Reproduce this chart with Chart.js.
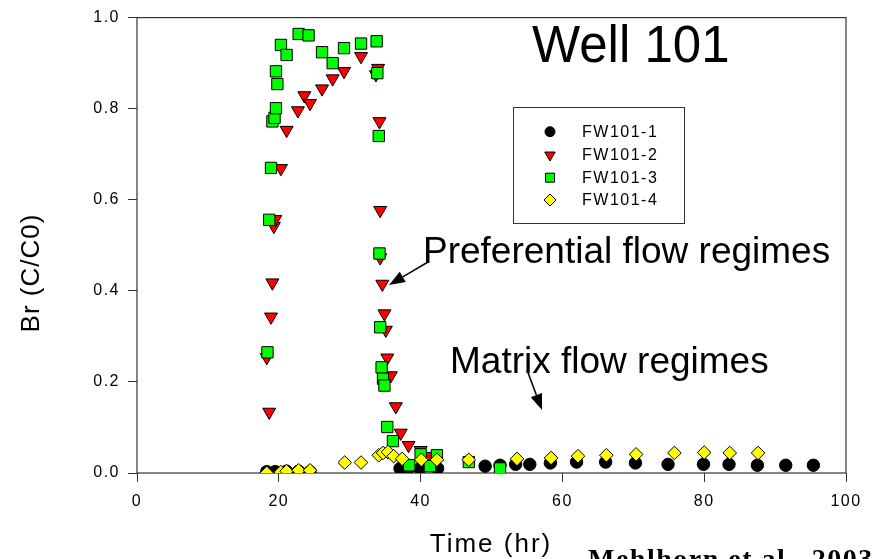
<!DOCTYPE html>
<html>
<head>
<meta charset="utf-8">
<title>Well 101</title>
<script src="https://cdn.jsdelivr.net/npm/chart.js@4.4.1/dist/chart.umd.min.js"></script>
<style>
  html, body { margin: 0; padding: 0; background: #ffffff; }
  #wrap { width: 878px; height: 559px; position: relative; }
</style>
</head>
<body>
<div id="wrap"><canvas id="wellChart" width="878" height="559"></canvas></div>
<script>
// Bromide breakthrough data (time in hr, C/C0)
const fw1Time = [18.3, 19.5, 21.1, 22.8, 24.4, 37.1, 38.3, 39.9, 42.4, 49.1, 51.2, 53.4, 55.4, 58.3, 62.0, 66.1, 70.3, 74.9, 79.9, 83.5, 87.5, 91.5, 95.4];
const fw1Conc = [0.003, 0.003, 0.004, 0.004, 0.003, 0.010, 0.010, 0.010, 0.010, 0.015, 0.017, 0.019, 0.019, 0.022, 0.024, 0.024, 0.022, 0.019, 0.019, 0.019, 0.017, 0.017, 0.017];

const fw2Time = [18.3, 18.65, 18.9, 19.1, 19.3, 19.5, 20.3, 21.1, 22.7, 23.6, 24.4, 26.1, 27.6, 29.2, 31.6, 33.7, 34.0, 34.2, 34.3, 34.3, 34.6, 34.9, 35.1, 35.3, 35.8, 36.5, 37.2, 38.3, 40.0, 41.1];
const fw2Conc = [0.254, 0.134, 0.343, 0.418, 0.542, 0.557, 0.669, 0.753, 0.796, 0.829, 0.812, 0.844, 0.866, 0.882, 0.915, 0.875, 0.889, 0.772, 0.577, 0.473, 0.415, 0.350, 0.314, 0.253, 0.214, 0.146, 0.088, 0.061, 0.050, 0.037];

const fw3Time = [18.4, 18.65, 18.9, 19.1, 19.4, 19.6, 19.6, 19.8, 20.3, 21.1, 22.8, 24.2, 26.1, 27.6, 29.2, 31.6, 33.8, 33.9, 34.1, 34.2, 34.3, 34.5, 34.7, 34.9, 35.3, 36.1, 38.4, 40.0, 41.3, 42.3, 46.8, 51.2];
const fw3Conc = [0.265, 0.556, 0.670, 0.772, 0.780, 0.801, 0.882, 0.854, 0.940, 0.918, 0.964, 0.961, 0.924, 0.900, 0.933, 0.943, 0.948, 0.878, 0.740, 0.482, 0.320, 0.232, 0.207, 0.192, 0.101, 0.070, 0.017, 0.041, 0.015, 0.039, 0.024, 0.010];

const fw4Time = [18.3, 20.3, 21.1, 22.8, 24.4, 29.3, 31.6, 34.1, 34.7, 35.4, 36.2, 37.4, 40.1, 42.3, 46.8, 53.6, 58.4, 62.2, 66.2, 70.4, 75.8, 80.0, 83.6, 87.6];
const fw4Conc = [0.000, 0.002, 0.004, 0.006, 0.006, 0.023, 0.023, 0.039, 0.044, 0.046, 0.037, 0.031, 0.029, 0.029, 0.029, 0.031, 0.033, 0.037, 0.039, 0.041, 0.044, 0.045, 0.044, 0.044];

const seriesNames = ["FW101-1", "FW101-2", "FW101-3", "FW101-4"];
const xTicks = [0, 20, 40, 60, 80, 100];
const yTicks = [0.0, 0.2, 0.4, 0.6, 0.8, 1.0];

const FONT = 'Arial, "Liberation Sans", sans-serif';

function toPoints(times, values) {
  return times.map((t, i) => ({ x: t, y: values[i] }));
}

/**
 * Small marker shapes for the in-plot legend
 */
function drawMarker(ctx, style, x, y, r, fill) {
  ctx.save();
  ctx.fillStyle = fill;
  ctx.strokeStyle = "#000";
  ctx.lineWidth = 1;
  ctx.beginPath();
  if (style === "circle") {
    ctx.arc(x, y, r, 0, Math.PI * 2);
  } else if (style === "triangle") {
    ctx.moveTo(x - r * 0.87, y - r * 0.5);
    ctx.lineTo(x + r * 0.87, y - r * 0.5);
    ctx.lineTo(x, y + r);
    ctx.closePath();
  } else if (style === "rect") {
    const s = r * 0.75;
    ctx.rect(x - s, y - s, s * 2, s * 2);
  } else if (style === "rectRot") {
    ctx.moveTo(x, y - r);
    ctx.lineTo(x + r, y);
    ctx.lineTo(x, y + r);
    ctx.lineTo(x - r, y);
    ctx.closePath();
  }
  ctx.fill();
  ctx.stroke();
  ctx.restore();
}

function drawArrow(ctx, x1, y1, x2, y2) {
  const ang = Math.atan2(y2 - y1, x2 - x1);
  const len = 16, half = 6;
  const bx = x2 - Math.cos(ang) * len;
  const by = y2 - Math.sin(ang) * len;
  ctx.save();
  ctx.strokeStyle = "#000";
  ctx.fillStyle = "#000";
  ctx.lineWidth = 1.5;
  ctx.beginPath();
  ctx.moveTo(x1, y1);
  ctx.lineTo(bx, by);
  ctx.stroke();
  ctx.beginPath();
  ctx.moveTo(x2, y2);
  ctx.lineTo(bx + Math.sin(ang) * half, by - Math.cos(ang) * half);
  ctx.lineTo(bx - Math.sin(ang) * half, by + Math.cos(ang) * half);
  ctx.closePath();
  ctx.fill();
  ctx.restore();
}

function label(ctx, text, x, y, font, spacing, align, baseline) {
  ctx.save();
  ctx.font = font;
  ctx.letterSpacing = spacing;
  ctx.fillStyle = "#000";
  ctx.textAlign = align || "left";
  ctx.textBaseline = baseline || "alphabetic";
  ctx.fillText(text, x, y);
  ctx.restore();
}

// Slightly spaced-out tick text like the original plot
const spacingPlugin = {
  id: "spacing",
  beforeLayout(chart) { chart.ctx.letterSpacing = "1.5px"; },
  beforeDraw(chart) { chart.ctx.letterSpacing = "1.5px"; },
};

// Full box around the plotting area
const framePlugin = {
  id: "frame",
  beforeDatasetsDraw(chart) {
    const { ctx, chartArea: a } = chart;
    ctx.save();
    ctx.strokeStyle = "#333";
    ctx.lineWidth = 1.2;
    ctx.strokeRect(a.left, a.top, a.right - a.left, a.bottom - a.top);
    ctx.restore();
  },
};

// Titles, notes, arrows and the boxed legend
const notesPlugin = {
  id: "notes",
  afterDraw(chart) {
    const ctx = chart.ctx;

    label(ctx, "Well 101", 532, 62, "51px " + FONT, "0px");
    label(ctx, "Preferential flow regimes", 423, 263, "37px " + FONT, "0px");
    label(ctx, "Matrix flow regimes", 450, 373, "37px " + FONT, "0px");

    drawArrow(ctx, 428, 262, 389, 285);
    drawArrow(ctx, 527, 370, 542, 410);

    label(ctx, "Time (hr)", 491, 552, "26px " + FONT, "2px", "center");
    label(ctx, "Mehlhorn et al., 2003", 588, 568, 'bold 28px "Liberation Serif", "Times New Roman", serif', "1.5px");

    ctx.save();
    ctx.translate(32, 273);
    ctx.rotate(-Math.PI / 2);
    label(ctx, "Br (C/C0)", 0, 0, "26px " + FONT, "1px", "center", "middle");
    ctx.restore();

    // legend box
    ctx.save();
    ctx.strokeStyle = "#333";
    ctx.lineWidth = 1;
    ctx.strokeRect(513.5, 107.5, 171, 116);
    ctx.restore();

    const rows = [131.7, 155, 177.7, 200];
    chart.data.datasets.forEach((ds, i) => {
      drawMarker(ctx, ds.pointStyle, 550, rows[i], ds.legendRadius, ds.backgroundColor);
      label(ctx, seriesNames[i], 582, rows[i] + 1, "16px " + FONT, "1.5px", "left", "middle");
    });
  },
};

document.addEventListener("DOMContentLoaded", () => {
  const ctx = document.getElementById("wellChart");

  new Chart(ctx, {
    type: "scatter",
    data: {
      datasets: [
        {
          label: seriesNames[0],
          data: toPoints(fw1Time, fw1Conc),
          pointStyle: "circle",
          pointRadius: 6.2,
          backgroundColor: "#000000",
          borderColor: "#000000",
          legendRadius: 5,
          order: 4,
        },
        {
          label: seriesNames[1],
          data: toPoints(fw2Time, fw2Conc),
          pointStyle: "triangle",
          rotation: 180,
          pointRadius: 7.5,
          backgroundColor: "#ff0000",
          borderColor: "#000000",
          legendRadius: 6,
          order: 3,
        },
        {
          label: seriesNames[2],
          data: toPoints(fw3Time, fw3Conc),
          pointStyle: "rect",
          pointRadius: 8,
          backgroundColor: "#00ff00",
          borderColor: "#000000",
          legendRadius: 6,
          order: 2,
        },
        {
          label: seriesNames[3],
          data: toPoints(fw4Time, fw4Conc),
          pointStyle: "rectRot",
          pointRadius: 6.8,
          backgroundColor: "#ffff00",
          borderColor: "#000000",
          legendRadius: 6,
          order: 1,
        },
      ],
    },
    options: {
      responsive: false,
      animation: false,
      devicePixelRatio: 1,
      layout: { padding: { left: 0, top: 16, right: 32, bottom: 0 } },
      elements: { point: { borderWidth: 1, hoverRadius: 7 } },
      plugins: {
        legend: { display: false },
        tooltip: { enabled: false },
      },
      scales: {
        x: {
          type: "linear",
          min: 0,
          max: 100,
          afterFit: (scale) => { scale.height = 86; },
          afterBuildTicks: (scale) => { scale.ticks = xTicks.map((v) => ({ value: v })); },
          ticks: {
            color: "#000",
            font: { family: FONT, size: 16 },
            padding: 10,
            maxRotation: 0,
          },
          grid: { drawOnChartArea: false, drawTicks: true, tickLength: 9, color: "#333" },
          border: { display: false },
        },
        y: {
          min: 0,
          max: 1,
          afterFit: (scale) => { scale.width = 137; },
          afterBuildTicks: (scale) => { scale.ticks = yTicks.map((v) => ({ value: v })); },
          ticks: {
            color: "#000",
            font: { family: FONT, size: 16 },
            padding: 8,
            callback: (v) => Number(v).toFixed(1),
          },
          grid: { drawOnChartArea: false, drawTicks: true, tickLength: 9, color: "#333" },
          border: { display: false },
        },
      },
    },
    plugins: [spacingPlugin, framePlugin, notesPlugin],
  });
});
</script>
</body>
</html>
